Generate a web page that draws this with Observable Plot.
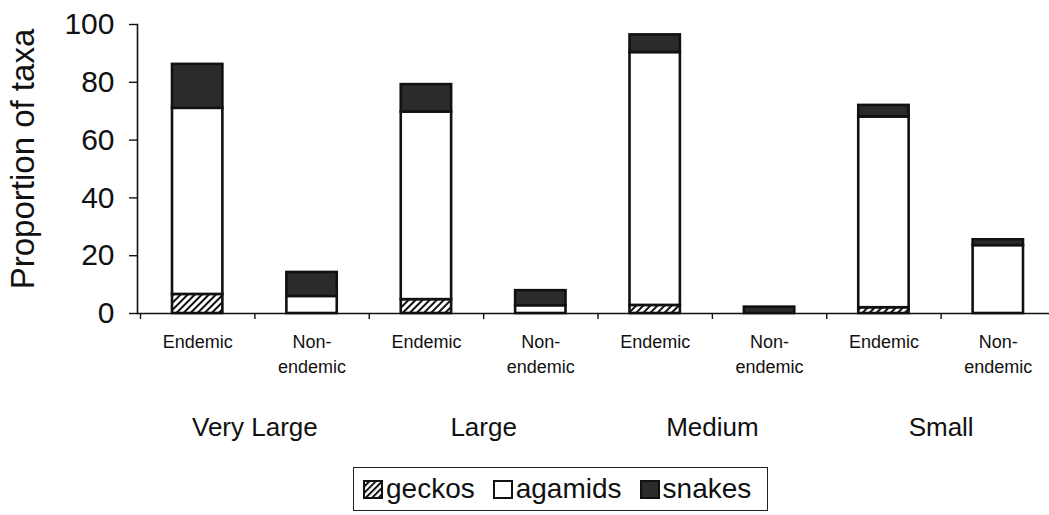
<!DOCTYPE html>
<html>
<head>
<meta charset="utf-8">
<script src="https://cdn.jsdelivr.net/npm/d3@7"></script>
<script src="https://cdn.jsdelivr.net/npm/@observablehq/plot@0.6"></script>
<style>
  html, body { margin: 0; padding: 0; background: #fff; }
  body { font-family: "Liberation Sans", Arial, sans-serif; color: #111; width: 1049px; height: 515px; overflow: hidden; }
  #legend { margin-left: 353px; margin-top: 5px; width: 415px; height: 44px; border: 1.5px solid #222; box-sizing: border-box;
            display: flex; align-items: center; padding-left: 9px; font-size: 28px; }
  #legend .item { display: flex; align-items: center; margin-right: 18px; }
  #legend svg { margin-right: 3px; }
</style>
</head>
<body>
<div id="chart"></div>
<div id="legend"></div>
<script>
// ---- data ----
const sizes = ["Very Large", "Large", "Medium", "Small"];
const statuses = ["Endemic", "Non-\nendemic"];
const taxa = ["geckos", "agamids", "snakes"];
// one value per bar: VL-End, VL-Non, L-End, L-Non, M-End, M-Non, S-End, S-Non
const geckos  = [6.6, 0,   4.8, 0,   2.8, 0,   2,  0];
const agamids = [64.4, 5.9, 64.9, 2.7, 87.5, 0,  66, 23.5];
const snakes  = [15.2, 8.3, 9.5, 5.2, 6.1, 2.2, 4,  2];
const yTicks = [0, 20, 40, 60, 80, 100];
const yTitle = "Proportion of taxa";

const series = {geckos, agamids, snakes};
const fills = {geckos: "url(#hatch)", agamids: "#ffffff", snakes: "#2b2b2b"};

const rows = [];
const nBars = sizes.length * statuses.length;
for (let i = 0; i < nBars; i++) {
  let cum = 0;
  for (const t of taxa) {
    const v = series[t][i];
    if (v > 0) rows.push({i, taxon: t, y1: cum, y2: cum + v});
    cum += v;
  }
}
const barLabels = d3.range(nBars).map(i => ({i, text: statuses[i % 2]}));
const groupLabels = sizes.map((s, g) => ({g, text: s}));

const W = 1049, H = 462;
const plot = Plot.plot({
  width: W,
  height: H,
  marginLeft: 137,
  marginRight: 0,
  marginTop: 24,
  marginBottom: 149,
  style: {fontFamily: "'Liberation Sans', Arial, sans-serif", background: "#fff", color: "#111"},
  x: {domain: [0, nBars], range: [140, 1055], axis: null},
  y: {domain: [0, 100], axis: null},
  marks: [
    Plot.rectY(rows, {
      x1: d => d.i, x2: d => d.i + 1, y1: "y1", y2: "y2",
      insetLeft: 32, insetRight: 32,
      fill: d => fills[d.taxon], stroke: "#111", strokeWidth: 2.6
    }),
    Plot.ruleY([0], {stroke: "#111", strokeWidth: 1.6}),
    Plot.frame({anchor: "left", stroke: "#111", strokeWidth: 1.6}),
    Plot.axisY({ticks: yTicks, tickSize: 8, tickPadding: 15, fontSize: 30, strokeWidth: 1.4,
                label: yTitle, labelAnchor: "center", labelOffset: 127, labelArrow: "none"}),
    Plot.axisX({ticks: d3.range(0, nBars + 1), tickSize: 6, tickFormat: () => "", label: null, strokeWidth: 1.4}),
    Plot.text(barLabels, {x: d => d.i + 0.5, text: "text", frameAnchor: "bottom", lineAnchor: "top", dy: 16, fontSize: 18, lineHeight: 1.42, fill: "#111"}),
    Plot.text(groupLabels, {x: d => 2 * d.g + 1, text: "text", frameAnchor: "bottom", lineAnchor: "middle", dy: 114, fontSize: 26, fill: "#111"})
  ]
});

// y-axis title: size, strip any arrow, nudge up slightly
const yl = d3.select(plot).selectAll("g[aria-label='y-axis label']");
yl.selectAll("text").attr("font-size", 33).each(function() {
  this.textContent = this.textContent.replace(/[\u2191\u2193\u2190\u2192]/g, "").trim();
});
yl.attr("transform", (yl.attr("transform") || "") + " translate(0,-10)");

const defs = d3.select(plot).insert("defs", ":first-child");
const pat = defs.append("pattern").attr("id", "hatch").attr("patternUnits", "userSpaceOnUse")
  .attr("width", 5).attr("height", 5).attr("patternTransform", "rotate(45)");
pat.append("rect").attr("width", 5).attr("height", 5).attr("fill", "#fff");
pat.append("line").attr("x1", 1).attr("y1", 0).attr("x2", 1).attr("y2", 5).attr("stroke", "#111").attr("stroke-width", 2);

document.getElementById("chart").appendChild(plot);

// legend
const legend = d3.select("#legend");
taxa.forEach(t => {
  const item = legend.append("div").attr("class", "item");
  const sw = item.append("svg").attr("width", 20).attr("height", 19);
  if (t === "geckos") {
    const d2 = sw.append("defs").append("pattern").attr("id", "hatchL").attr("patternUnits", "userSpaceOnUse")
      .attr("width", 4.5).attr("height", 4.5).attr("patternTransform", "rotate(45)");
    d2.append("rect").attr("width", 4.5).attr("height", 4.5).attr("fill", "#fff");
    d2.append("line").attr("x1", 1).attr("y1", 0).attr("x2", 1).attr("y2", 4.5).attr("stroke", "#111").attr("stroke-width", 2);
  }
  sw.append("rect").attr("x", 1).attr("y", 1).attr("width", 18).attr("height", 17)
    .attr("fill", t === "geckos" ? "url(#hatchL)" : fills[t]).attr("stroke", "#111").attr("stroke-width", 2);
  item.append("span").text(t);
});
</script>
</body>
</html>
